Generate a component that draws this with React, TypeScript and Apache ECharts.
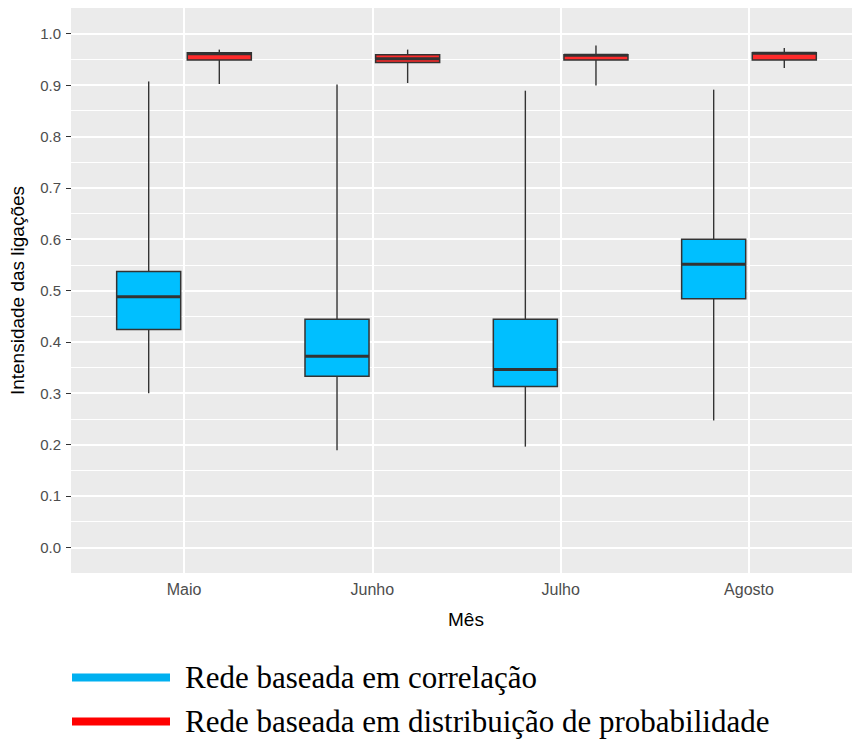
import React, { useEffect, useRef } from 'react';
import * as echarts from 'echarts';

// ---- Data ----
const categories = ['Maio', 'Junho', 'Julho', 'Agosto'];

const seriesNames = ['Rede baseada em correlação', 'Rede baseada em distribuição de probabilidade'];

// Correlation-based network: whisker low, Q1, median, Q3, whisker high
const corrMin = [0.300, 0.189, 0.196, 0.247];
const corrQ1 = [0.424, 0.333, 0.313, 0.484];
const corrMedian = [0.488, 0.372, 0.346, 0.551];
const corrQ3 = [0.537, 0.444, 0.444, 0.600];
const corrMax = [0.907, 0.901, 0.889, 0.891];

// Probability-distribution-based network
const probMin = [0.902, 0.904, 0.899, 0.933];
const probQ1 = [0.949, 0.944, 0.949, 0.949];
const probMedian = [0.961, 0.951, 0.958, 0.962];
const probQ3 = [0.963, 0.959, 0.959, 0.963];
const probMax = [0.969, 0.969, 0.977, 0.972];

const yTickValues = [0, 0.1, 0.2, 0.3, 0.4, 0.5, 0.6, 0.7, 0.8, 0.9, 1.0];
const yMinorValues = [0.05, 0.15, 0.25, 0.35, 0.45, 0.55, 0.65, 0.75, 0.85, 0.95];
const xTickValues = [1, 2, 3, 4];

// ---- Styles ----
const DODGE = 0.1875;
const BOX_W = 0.34;
const BLUE = '#00BFFF';
const RED = '#FF2B2B';
const EDGE = '#333333';
const SANS = '"Liberation Sans", Arial, Helvetica, sans-serif';
const SERIF = '"Liberation Serif", "Times New Roman", serif';

function buildData(mins: number[], q1: number[], med: number[], q3: number[], maxs: number[], offset: number) {
  return categories.map((_, i) => [i + 1 + offset, mins[i], q1[i], med[i], q3[i], maxs[i]]);
}

function makeRenderer(fill: string) {
  return (params: any, api: any) => {
    const x = api.value(0);
    const pMin = api.coord([x, api.value(1)]);
    const pQ1 = api.coord([x, api.value(2)]);
    const pMed = api.coord([x, api.value(3)]);
    const pQ3 = api.coord([x, api.value(4)]);
    const pMax = api.coord([x, api.value(5)]);
    const w = api.size([BOX_W, 0])[0];
    const lineStyle = { stroke: EDGE, lineWidth: 1.4 };
    return {
      type: 'group',
      children: [
        { type: 'line', shape: { x1: pMax[0], y1: pMax[1], x2: pQ3[0], y2: pQ3[1] }, style: lineStyle },
        { type: 'line', shape: { x1: pQ1[0], y1: pQ1[1], x2: pMin[0], y2: pMin[1] }, style: lineStyle },
        {
          type: 'rect',
          shape: { x: pQ3[0] - w / 2, y: pQ3[1], width: w, height: pQ1[1] - pQ3[1] },
          style: { fill, stroke: EDGE, lineWidth: 1.5 },
        },
        {
          type: 'line',
          shape: { x1: pMed[0] - w / 2, y1: pMed[1], x2: pMed[0] + w / 2, y2: pMed[1] },
          style: { stroke: EDGE, lineWidth: 3 },
        },
      ],
    };
  };
}

export default function App() {
  const ref = useRef<HTMLDivElement>(null);

  useEffect(() => {
    if (!ref.current) return;
    const chart = echarts.init(ref.current, null, { renderer: 'svg' });

    const gridLines: any[] = [
      ...yMinorValues.map((v) => ({ yAxis: v, lineStyle: { color: '#FFFFFF', width: 1, type: 'solid' } })),
      ...yTickValues.map((v) => ({ yAxis: v, lineStyle: { color: '#FFFFFF', width: 2, type: 'solid' } })),
      ...xTickValues.map((v) => ({ xAxis: v, lineStyle: { color: '#FFFFFF', width: 2, type: 'solid' } })),
    ];

    const option: any = {
      animation: false,
      grid: {
        left: 71,
        right: 0,
        top: 8,
        bottom: 172,
        show: true,
        backgroundColor: '#EBEBEB',
        borderWidth: 0,
      },
      xAxis: {
        type: 'value',
        min: 0.4,
        max: 4.547,
        name: 'Mês',
        nameLocation: 'middle',
        nameGap: 37,
        nameTextStyle: { fontFamily: SANS, fontSize: 19, color: '#000', padding: [0, 0, 0, 9] },
        axisLine: { show: false },
        axisTick: { show: true, customValues: xTickValues, length: 5, lineStyle: { color: EDGE, width: 1 } },
        axisLabel: {
          customValues: xTickValues,
          formatter: (v: number) => categories[Math.round(v) - 1],
          color: '#4D4D4D',
          fontFamily: SANS,
          fontSize: 16,
          margin: 8,
        },
        splitLine: { show: false },
      },
      yAxis: {
        type: 'value',
        min: -0.05,
        max: 1.05,
        interval: 0.05,
        name: 'Intensidade das ligações',
        nameLocation: 'middle',
        nameGap: 44,
        nameTextStyle: { fontFamily: SANS, fontSize: 19, color: '#000' },
        axisLine: { show: false },
        axisTick: { show: true, customValues: yTickValues, length: 5, lineStyle: { color: EDGE, width: 1 } },
        axisLabel: {
          customValues: yTickValues,
          formatter: (v: number) => v.toFixed(1),
          color: '#4D4D4D',
          fontFamily: SANS,
          fontSize: 15,
          margin: 10,
        },
        splitLine: { show: false },
      },
      legend: {
        orient: 'vertical',
        left: 67,
        top: 657,
        icon: 'rect',
        itemWidth: 98,
        itemHeight: 8,
        itemGap: 13,
        textStyle: { fontFamily: SERIF, fontSize: 31, color: '#000', padding: [0, 0, 0, 10] },
        data: [
          { name: seriesNames[0], itemStyle: { color: '#00B0F0', borderWidth: 0 } },
          { name: seriesNames[1], itemStyle: { color: '#FF0000', borderWidth: 0 } },
        ],
      },
      series: [
        {
          type: 'line',
          name: 'grid',
          data: [],
          z: 1,
          silent: true,
          markLine: {
            z: 1,
            silent: true,
            symbol: ['none', 'none'],
            label: { show: false },
            animation: false,
            data: gridLines,
          },
        },
        {
          type: 'custom',
          name: seriesNames[0],
          z: 3,
          itemStyle: { color: BLUE },
          encode: { x: 0, y: [1, 2, 3, 4, 5] },
          data: buildData(corrMin, corrQ1, corrMedian, corrQ3, corrMax, -DODGE),
          renderItem: makeRenderer(BLUE),
        },
        {
          type: 'custom',
          name: seriesNames[1],
          z: 3,
          itemStyle: { color: RED },
          encode: { x: 0, y: [1, 2, 3, 4, 5] },
          data: buildData(probMin, probQ1, probMedian, probQ3, probMax, DODGE),
          renderItem: makeRenderer(RED),
        },
      ],
    };

    chart.setOption(option);
    return () => chart.dispose();
  }, []);

  return (
    <div
      ref={ref}
      style={{ position: 'fixed', left: 0, top: 0, width: 852, height: 745, background: '#FFFFFF' }}
    />
  );
}
